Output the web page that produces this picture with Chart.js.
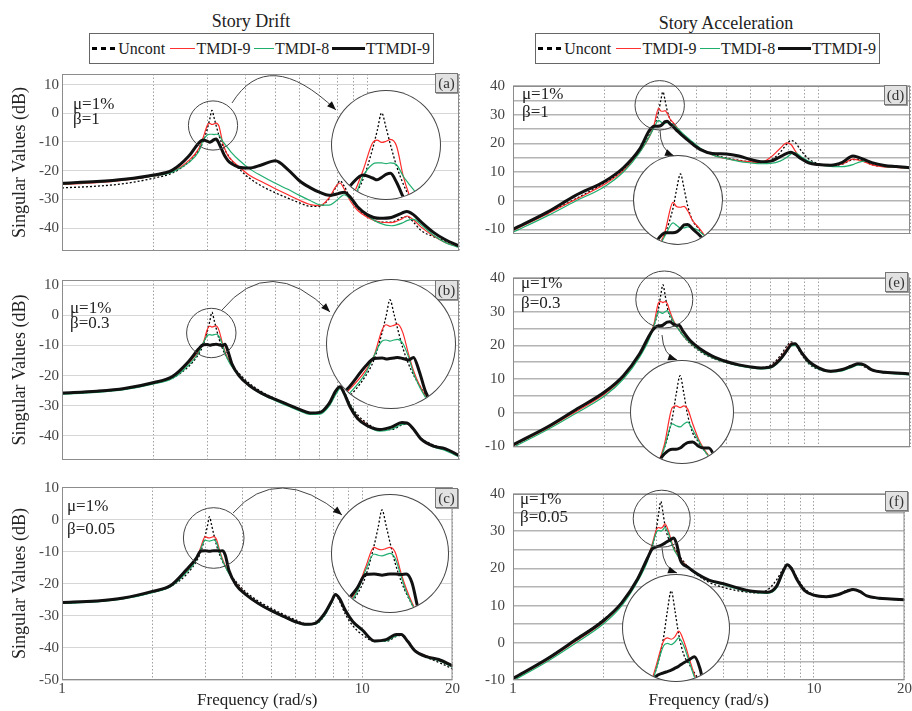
<!DOCTYPE html>
<html>
<head>
<meta charset="utf-8">
<script src="https://cdn.jsdelivr.net/npm/chart.js@4.4.1/dist/chart.umd.min.js"></script>
<style>
  body { margin: 0; background: #fff; }
  #page { position: relative; width: 912px; height: 711px; overflow: hidden; font-family: 'Liberation Serif', 'Times New Roman', serif; color: #222; }
  .panel { position: absolute; }
  .txt { position: absolute; font-size: 17px; line-height: 17px; white-space: nowrap; color: #222; }
  .title { position: absolute; font-size: 18px; line-height: 20px; text-align: center; color: #222; }
  .tag { position: absolute; width: 23px; height: 20px; background: #e2e2e2; border: 1px solid #777; box-shadow: 1px 1px 0 #9a9a9a; box-sizing: border-box; font-size: 15px; line-height: 18px; text-align: center; color: #333; }
  .legend { position: absolute; height: 31px; border: 1px solid #666; box-sizing: border-box; display: flex; align-items: center; padding-left: 2px; font-size: 16px; white-space: nowrap; }
  .legend .smp { display: inline-block; margin-right: 1px; }
  .legend .lbl { margin-right: 3px; }
  .inset { position: absolute; border-radius: 50%; overflow: hidden; background: #fff; box-shadow: 0 0 0 1px #444; z-index: 2; }
</style>
</head>
<body>
<div id="page">
  <div class="title" style="left:151px;top:11px;width:200px;">Story Drift</div>
  <div class="title" style="left:626px;top:13px;width:200px;">Story Acceleration</div>

  <div class="legend" style="left:89px;top:33px;width:345px;">
    <span class="smp" style="width:26px;height:3px;background:repeating-linear-gradient(90deg,#000 0 5px,transparent 5px 9px);"></span><span class="lbl">Uncont</span>
    <span class="smp" style="width:26px;height:1.5px;background:#ff3030;margin-left:2px;"></span><span class="lbl">TMDI-9</span>
    <span class="smp" style="width:21px;height:1.5px;background:#1fae6e;"></span><span class="lbl">TMDI-8</span>
    <span class="smp" style="width:34px;height:3px;background:#111;"></span><span class="lbl">TTMDI-9</span>
  </div>
  <div class="legend" style="left:535px;top:33px;width:345px;">
    <span class="smp" style="width:26px;height:3px;background:repeating-linear-gradient(90deg,#000 0 5px,transparent 5px 9px);"></span><span class="lbl">Uncont</span>
    <span class="smp" style="width:26px;height:1.5px;background:#ff3030;margin-left:2px;"></span><span class="lbl">TMDI-9</span>
    <span class="smp" style="width:21px;height:1.5px;background:#1fae6e;"></span><span class="lbl">TMDI-8</span>
    <span class="smp" style="width:34px;height:3px;background:#111;"></span><span class="lbl">TTMDI-9</span>
  </div>
</div>

<script>
// frequency grid (rad/s), shared by every curve
const freq = [1, 1.3, 1.6, 2, 2.3, 2.6, 2.8, 2.9, 3.0, 3.05,
  3.1, 3.15, 3.2, 3.27, 3.35, 3.42, 3.5, 3.6, 3.8, 4.1,
  4.5, 5, 5.5, 6, 6.5, 7, 7.5, 7.9, 8.15, 8.4,
  8.8, 9.3, 10, 11, 12, 13, 13.5, 14.2, 15, 16.5,
  18, 20];

const xTicks = [1, 2, 3, 4, 5, 6, 7, 8, 9, 10, 20];
const xTickLabels = ['1', '', '', '', '', '', '', '', '', '10', '20'];
const driftTicks = [-40, -30, -20, -10, 0, 10];
const driftTicksC = [-50, -40, -30, -20, -10, 0, 10];
const accGrid = [-10, -5, 0, 5, 10, 15, 20, 25, 30, 35, 40];
const accLabels = [-10, 0, 10, 20, 30, 40];

const seriesNames = ['Uncont', 'TMDI-9', 'TMDI-8', 'TTMDI-9'];

// story drift (dB)
const driftUncont = [-26, -25.4, -24.5, -22.6, -20.8, -17, -13, -10, -5, -2,
  1, -1.5, -4.3, -7.8, -10.8, -12.8, -14.6, -16.5, -19.3, -22.5,
  -25.3, -27.7, -29.6, -31.2, -32.4, -32.4, -29.8, -25.8, -23.5, -25.3,
  -29.5, -33, -35.8, -37.9, -37.9, -36.4, -36, -38, -40.8, -43,
  -44.5, -46.5];

const driftTMDI9A = [-24.8, -24.2, -23.3, -21.8, -20.4, -16.5, -12.5, -8.5, -4, -3.5,
  -3.9, -3.7, -3.4, -4.5, -9.5, -12.5, -14.8, -16.3, -18.6, -21.5,
  -23.8, -26.3, -28.4, -30.3, -31.8, -32.2, -29.5, -25.5, -24.3, -26.3,
  -30.5, -33.8, -36.2, -37.9, -38.1, -36.8, -35.8, -37.2, -39.6, -42.8,
  -45, -46.5];
const driftTMDI8A = [-24.6, -24, -23.2, -21.8, -20.5, -17.2, -13.5, -9.5, -7.5, -7.3,
  -7.3, -7.4, -7.3, -7.6, -9.5, -10.8, -12.1, -13.8, -16.3, -19.2,
  -21.8, -24.4, -26.5, -28.6, -30.4, -31.9, -32, -30.6, -29.3, -28.4,
  -29.8, -32.6, -35.6, -38.3, -39.2, -38.3, -37.4, -37, -38.8, -42.5,
  -45, -46.8];
const driftTTMDI9A = [-24.4, -23.8, -23, -21.5, -19.8, -15, -10.5, -9.3, -9.8, -10.1,
  -9.7, -9.2, -9.0, -10.5, -13, -15, -16.5, -17.6, -18.8, -19.1,
  -18, -16.5, -19.6, -23.5, -25.9, -27.6, -28.6, -28.2, -27.8, -27.5,
  -29.2, -32.6, -35.3, -36.6, -36.3, -34.8, -34.2, -35.4, -37.8, -41.5,
  -44, -46.2];

const driftTMDI9B = [-25.9, -25.3, -24.4, -22.4, -20.6, -15.8, -12, -9.3, -4.5, -3.6,
  -3.9, -3.7, -3.5, -5, -9, -12, -14.5, -16.8, -20, -23.1,
  -25.8, -28, -29.8, -31.4, -32.6, -32.3, -29.3, -25, -23.6, -25.5,
  -30, -33.7, -36.3, -38, -37.3, -35.8, -35.9, -38, -41.2, -43.5,
  -44.3, -46.6];
const driftTMDI8B = [-26.2, -25.6, -24.7, -22.8, -21, -16.5, -12.5, -9.3, -6.6, -6.4,
  -6.6, -6.4, -6.3, -7, -9.5, -12.5, -14.8, -17, -20.2, -23.4,
  -26.1, -28.3, -30.1, -31.7, -32.9, -32.8, -30.2, -26.2, -24.3, -25.5,
  -29.8, -33.8, -36.6, -38.4, -37.8, -36.2, -36, -37.8, -41, -43.7,
  -44.8, -47];
const driftTTMDI9B = [-25.8, -25.2, -24.3, -22.3, -20.3, -15.3, -11.2, -9.8, -9.7, -9.9,
  -9.8, -9.7, -9.6, -9.8, -10.1, -9.6, -12, -16, -20, -23.2,
  -25.8, -27.9, -29.6, -31.2, -32.4, -32.2, -29.3, -25, -23.7, -25.8,
  -30.5, -34.2, -36.6, -37.9, -37.1, -35.6, -35.7, -37.8, -41, -43.4,
  -44.2, -46.5];

const driftTMDI9C = [-25.9, -25.4, -24.5, -22.5, -20.7, -16, -12.2, -8.5, -5.2, -5.5,
  -5.6, -5.4, -5.2, -6, -9.5, -12, -14.3, -16.5, -19.8, -23.2,
  -26, -28.4, -30.1, -31.7, -32.5, -32.2, -29.3, -25.6, -23.3, -24.4,
  -28.3, -31.7, -34.4, -37.7, -37.5, -35.9, -35.8, -38, -40.8, -42.6,
  -43.5, -45.5];
const driftTMDI8C = [-26.1, -25.6, -24.7, -22.7, -20.9, -16.4, -12.6, -9, -6.3, -6.5,
  -6.6, -6.4, -6.2, -7, -10, -12.5, -14.6, -16.8, -20, -23.4,
  -26.2, -28.6, -30.4, -32, -32.8, -32.5, -29.8, -26, -23.5, -24.6,
  -28.5, -32, -34.6, -38, -37.8, -36.2, -36, -38.2, -41, -43,
  -44, -46];
const driftTTMDI9C = [-25.8, -25.3, -24.4, -22.3, -20.5, -15.5, -12, -9.7, -9.6, -9.7,
  -9.8, -9.7, -9.6, -9.6, -9.7, -9.6, -11, -15.8, -20.3, -23.3,
  -26, -28.4, -30.2, -31.8, -32.6, -32.2, -29.2, -25.5, -23.3, -24.5,
  -28.3, -31.7, -34.3, -37.8, -37.4, -35.8, -35.8, -38, -40.9, -42.8,
  -43.6, -45.6];

// story acceleration (dB)
const accUncont = [-10, -4.2, 0.6, 6.3, 10.8, 17.5, 23, 26, 31, 35,
  38, 35, 31.5, 28.5, 27, 25.8, 24.6, 23, 20.6, 18.2,
  16.2, 14.9, 14.1, 13.6, 13.4, 14.2, 16.8, 19.8, 21, 20.4,
  17.4, 14.6, 12.9, 12.2, 12.8, 14.3, 14.4, 13.6, 12.6, 11.9,
  11.7, 11.4];

const accTMDI9D = [-10.4, -4.5, 0.4, 5.8, 10.5, 17, 22.3, 26.5, 32.2, 31.3,
  31.2, 31.4, 30.5, 28.5, 27.2, 26, 24.5, 23, 20.7, 18.2,
  16, 14.7, 14, 13.6, 13.3, 15.2, 18.2, 20.2, 19.6, 17.5,
  14.6, 13.2, 12.6, 12.3, 12.8, 14.5, 14.2, 13.5, 12.5, 11.8,
  11.6, 11.3];
const accTMDI8D = [-11, -5.2, -0.2, 5, 10, 16.8, 22.5, 25.5, 28, 27.5,
  27, 27, 27.2, 27, 26.5, 25.7, 24.7, 23.5, 21.3, 18.4,
  16, 14.7, 13.7, 13.2, 12.9, 13, 13.8, 15.2, 16.3, 16.8,
  15.3, 13.8, 12.7, 12, 11.9, 12.6, 13.3, 13.8, 13.2, 12,
  11.7, 11.3];
const accTTMDI9D = [-10, -3.9, 1.8, 6.8, 11.5, 18, 24.5, 26, 26, 26.2,
  26.8, 27.6, 27.7, 26.8, 25.8, 24.8, 23.8, 22.6, 20.5, 17.9,
  16.5, 16.3, 15.6, 14.4, 13.6, 13.8, 15.3, 16.5, 16.9, 16.2,
  14.6, 13.2, 12.6, 12.4, 13.4, 15.6, 15.2, 14.3, 13.3, 12.3,
  11.9, 11.5];

const accTMDI9E = [-9.8, -4.6, 0.2, 5.6, 10.5, 17, 22.5, 26.5, 32.7, 33,
  32.7, 33, 32.5, 30, 27.5, 26, 24.7, 23, 20.8, 18.5,
  16.4, 15, 14, 13.4, 13.2, 13.8, 16.2, 19, 20.6, 20.5,
  17.8, 15, 13.2, 12.2, 12.7, 14, 14.4, 14, 12.6, 11.9,
  11.7, 11.4];
const accTMDI8E = [-10.3, -5, -0.3, 5, 10, 16.5, 22, 26, 30, 29.7,
  29.5, 30, 30.3, 29, 27.2, 25.8, 24.6, 23, 20.8, 18.4,
  16.3, 14.9, 13.9, 13.3, 13, 13.3, 15.4, 18.2, 19.8, 20,
  17.8, 14.8, 13, 12.1, 12.4, 13.6, 14.1, 14, 12.6, 11.8,
  11.5, 11.2];
const accTTMDI9E = [-9.5, -4.2, 0.8, 6.2, 11, 17.5, 23, 25, 25.8, 25.8,
  26, 26.5, 26.9, 27, 26.3, 26, 26, 24.3, 21.5, 19,
  16.8, 15.2, 14.2, 13.6, 13.3, 13.6, 15.8, 18.5, 20.2, 20.5,
  18, 15.3, 13.4, 12.3, 12.8, 14, 14.5, 14.1, 12.7, 12,
  11.8, 11.5];

const accTMDI9F = [-9.8, -4.6, 0.2, 5.6, 10.5, 17, 22.5, 26.5, 30.5, 31,
  30.8, 31.2, 32, 30.5, 27.8, 25.5, 24, 22.5, 20.5, 18.5,
  16.8, 15.8, 14.8, 14, 13.6, 13.5, 15, 19.2, 21, 20,
  16.8, 14, 12.8, 12.4, 12.9, 14, 14.3, 13.8, 12.6, 11.9,
  11.8, 11.6];
const accTMDI8F = [-10.2, -5, -0.3, 5.1, 10, 16.6, 22, 26, 29.8, 30.2,
  30, 30.4, 31, 29.8, 27.3, 25.2, 23.8, 22.3, 20.3, 18.3,
  16.6, 15.6, 14.6, 13.8, 13.4, 13.3, 14.6, 18.8, 20.8, 20.2,
  17, 14.2, 12.8, 12.3, 12.8, 13.9, 14.2, 13.8, 12.5, 11.8,
  11.7, 11.5];
const accTTMDI9F = [-9.6, -4.3, 0.6, 6, 10.8, 17.3, 22.8, 25.2, 25.8, 26,
  26.2, 26.5, 26.8, 27.3, 27.8, 28.2, 26.5, 22.2, 20.4, 18.5,
  16.8, 15.9, 14.9, 14.1, 13.7, 13.6, 15.1, 19.2, 21, 20.1,
  16.9, 14.1, 12.8, 12.4, 12.9, 14, 14.3, 13.8, 12.6, 12,
  11.8, 11.6];

const FONT = "'Liberation Serif', 'Times New Roman', serif";
const seriesStyle = [
  { color: '#000', width: 1.3, dash: [2, 2], order: 3 },
  { color: '#ff2a2a', width: 1.2, dash: [], order: 2 },
  { color: '#1fae6e', width: 1.2, dash: [], order: 1 },
  { color: '#111', width: 3, dash: [], order: 0 }
];

// layout of the six panels (page pixels); win = region of the main plot shown magnified in the inset
const panels = [
  { box: [0, 62, 460, 201], yw: 62, xh: 0, padRight: 1, yMin: -48, yMax: 13.7, grid: driftTicks, labels: driftTicks, drift: true,
    series: [driftUncont, driftTMDI9A, driftTMDI8A, driftTTMDI9A],
    small: [213, 125.5, 24.6], win: [214, 125.7, 25.7], big: [386, 144.5, 54], arrow: [[232, 103], [268, 45], [336, 110]],
    mu: [73, 95], beta: [73, 110, 'β=1'], tag: [435, 73, '(a)'] },
  { box: [0, 268, 460, 204], yw: 62, xh: 0, padRight: 1, yMin: -48, yMax: 11.7, grid: driftTicks, labels: driftTicks, drift: true,
    series: [driftUncont, driftTMDI9B, driftTMDI8B, driftTTMDI9B],
    small: [211.3, 333, 24.7], win: [212.5, 336.8, 35.5], big: [391, 343.5, 64], arrow: [[222, 310], [270, 252], [330, 312]],
    mu: [70, 299], beta: [70, 314, 'β=0.3'], tag: [435, 280, '(b)'] },
  { box: [0, 475, 460, 236], yw: 62, xh: 31, padRight: 1, yMin: -50, yMax: 10.3, grid: driftTicksC, labels: driftTicksC, drift: true,
    series: [driftUncont, driftTMDI9C, driftTMDI8C, driftTTMDI9C],
    small: [213.7, 538, 30.3], win: [213.7, 539.6, 30.7], big: [390, 553.3, 58.3], arrow: [[233, 513], [278, 462], [342, 515]],
    mu: [67, 497], beta: [67, 520, 'β=0.05'], tag: [435, 488, '(c)'] },
  { box: [462, 69, 450, 182], yw: 51, xh: 0, padRight: 2, yMin: -11.6, yMax: 40, grid: accGrid, labels: accLabels, drift: false,
    series: [accUncont, accTMDI9D, accTMDI8D, accTTMDI9D],
    small: [659.7, 105.3, 24.7], win: [661.5, 107, 25.7], big: [677.8, 199.7, 44], arrow: [[660, 130], [660, 150], [674, 156]],
    mu: [522, 85], beta: [522, 103, 'β=1'], tag: [884, 85, '(d)'] },
  { box: [462, 261, 450, 203], yw: 51, xh: 0, padRight: 2, yMin: -10.2, yMax: 40, grid: accGrid, labels: accLabels, drift: false,
    series: [accUncont, accTMDI9E, accTMDI8E, accTTMDI9E],
    small: [664.3, 299.5, 28.5], win: [664, 305, 28.5], big: [681.5, 411.7, 51], arrow: [[662, 335], [663, 355], [677, 360]],
    mu: [521, 274], beta: [521, 294, 'β=0.3'], tag: [885, 272, '(e)'] },
  { box: [462, 477, 450, 234], yw: 51, xh: 31, padRight: 2, yMin: -10, yMax: 40, grid: accGrid, labels: accLabels, drift: false,
    series: [accUncont, accTMDI9F, accTMDI8F, accTTMDI9F],
    small: [661.7, 518.7, 28.5], win: [663.5, 522, 29.3], big: [676.3, 627.5, 53], arrow: [[662, 548], [663, 568], [677, 573]],
    mu: [520, 490], beta: [520, 508, 'β=0.05'], tag: [885, 491, '(f)'] }
];

const page = document.getElementById('page');

function makeDatasets(series) {
  return series.map((arr, k) => {
    const st = seriesStyle[k];
    return {
      label: seriesNames[k],
      data: freq.map((f, i) => ({ x: f, y: arr[i] })),
      borderColor: st.color,
      borderWidth: st.width,
      borderDash: st.dash,
      order: st.order,
      pointRadius: 0,
      fill: false,
      cubicInterpolationMode: 'monotone'
    };
  });
}

function overlayPlugin(p) {
  const ox = p.box[0], oy = p.box[1];
  return {
    id: 'overlay',
    afterDatasetsDraw(chart) {
      const ctx = chart.ctx;
      const a = chart.chartArea;
      ctx.save();
      ctx.setLineDash([]);
      ctx.strokeStyle = '#8c8c8c';
      ctx.lineWidth = 1;
      ctx.strokeRect(a.left + 0.5, a.top + 0.5, a.right - a.left - 1, a.bottom - a.top - 1);

      // zoom circle
      ctx.strokeStyle = '#444';
      ctx.beginPath();
      ctx.arc(p.small[0] - ox, p.small[1] - oy, p.small[2], 0, Math.PI * 2);
      ctx.stroke();

      // arrow to the inset
      const [s, c, e] = p.arrow.map(q => [q[0] - ox, q[1] - oy]);
      ctx.beginPath();
      ctx.moveTo(s[0], s[1]);
      ctx.quadraticCurveTo(c[0], c[1], e[0], e[1]);
      ctx.stroke();
      const ang = Math.atan2(e[1] - c[1], e[0] - c[0]);
      const L = 9, W = 3.5;
      ctx.fillStyle = '#111';
      ctx.beginPath();
      ctx.moveTo(e[0], e[1]);
      ctx.lineTo(e[0] - L * Math.cos(ang) + W * Math.sin(ang), e[1] - L * Math.sin(ang) - W * Math.cos(ang));
      ctx.lineTo(e[0] - L * Math.cos(ang) - W * Math.sin(ang), e[1] - L * Math.sin(ang) + W * Math.cos(ang));
      ctx.closePath();
      ctx.fill();
      ctx.restore();
    }
  };
}

function addText(x, y, text, cls) {
  const d = document.createElement('div');
  d.className = cls;
  d.style.left = x + 'px';
  d.style.top = y + 'px';
  d.textContent = text;
  page.appendChild(d);
}

function buildPanel(p) {
  const [left, top, w, h] = p.box;
  const wrap = document.createElement('div');
  wrap.className = 'panel';
  wrap.style.left = left + 'px';
  wrap.style.top = top + 'px';
  wrap.style.width = w + 'px';
  wrap.style.height = h + 'px';
  const canvas = document.createElement('canvas');
  canvas.width = w;
  canvas.height = h;
  wrap.appendChild(canvas);
  page.appendChild(wrap);

  const bottom = p.xh > 0;
  const chart = new Chart(canvas, {
    type: 'line',
    data: { datasets: makeDatasets(p.series) },
    options: {
      responsive: false,
      animation: false,
      devicePixelRatio: 1,
      layout: { padding: { top: 10, right: p.padRight, bottom: 0, left: 0 }, autoPadding: false },
      plugins: { legend: { display: false }, tooltip: { enabled: false } },
      scales: {
        x: {
          type: 'logarithmic',
          min: 1,
          max: 20,
          afterBuildTicks: s => { s.ticks = xTicks.map(v => ({ value: v })); },
          afterFit: s => { s.height = p.xh; },
          ticks: {
            display: bottom,
            autoSkip: false,
            maxRotation: 0,
            padding: 0,
            color: '#444',
            font: { family: FONT, size: 15 },
            callback: v => xTickLabels[xTicks.indexOf(v)]
          },
          grid: { color: '#a0a0a0', lineWidth: 1, drawTicks: false },
          border: { display: false, dash: [1.5, 2] },
          title: { display: bottom, text: 'Frequency (rad/s)', color: '#222', font: { family: FONT, size: 17 }, padding: 0 }
        },
        y: {
          min: p.yMin,
          max: p.yMax,
          afterBuildTicks: s => { s.ticks = p.grid.map(v => ({ value: v })); },
          afterFit: s => { s.width = p.yw; },
          ticks: {
            autoSkip: false,
            padding: p.drift ? 3 : 8,
            color: '#444',
            font: { family: FONT, size: 15 },
            callback: v => p.labels.includes(v) ? String(v) : ''
          },
          grid: { color: p.drift ? '#d6d6d6' : '#b4b4b4', lineWidth: p.drift ? 1 : 1.6, drawTicks: false },
          border: { display: false },
          title: { display: p.drift, text: 'Singular Values (dB)', color: '#222', font: { family: FONT, size: 18 }, padding: { top: 9, bottom: 0 } }
        }
      }
    },
    plugins: [overlayPlugin(p)]
  });

  const xs = chart.scales.x, ys = chart.scales.y;
  const cx = p.win[0] - left, cy = p.win[1] - top, r = p.win[2];
  const R = p.big[2];
  const box = document.createElement('div');
  box.className = 'inset';
  box.style.left = (p.big[0] - R) + 'px';
  box.style.top = (p.big[1] - R) + 'px';
  box.style.width = (2 * R) + 'px';
  box.style.height = (2 * R) + 'px';
  const ic = document.createElement('canvas');
  ic.width = 2 * R;
  ic.height = 2 * R;
  box.appendChild(ic);
  page.appendChild(box);
  new Chart(ic, {
    type: 'line',
    data: { datasets: makeDatasets(p.series) },
    options: {
      responsive: false,
      animation: false,
      devicePixelRatio: 1,
      layout: { padding: 0, autoPadding: false },
      plugins: { legend: { display: false }, tooltip: { enabled: false } },
      scales: {
        x: { type: 'logarithmic', display: false, min: xs.getValueForPixel(cx - r), max: xs.getValueForPixel(cx + r) },
        y: { display: false, min: ys.getValueForPixel(cy + r), max: ys.getValueForPixel(cy - r) }
      }
    }
  });

  addText(p.mu[0], p.mu[1], 'μ=1%', 'txt');
  addText(p.beta[0], p.beta[1], p.beta[2], 'txt');
  addText(p.tag[0], p.tag[1], p.tag[2], 'tag');
}

panels.forEach(buildPanel);
</script>
</body>
</html>
